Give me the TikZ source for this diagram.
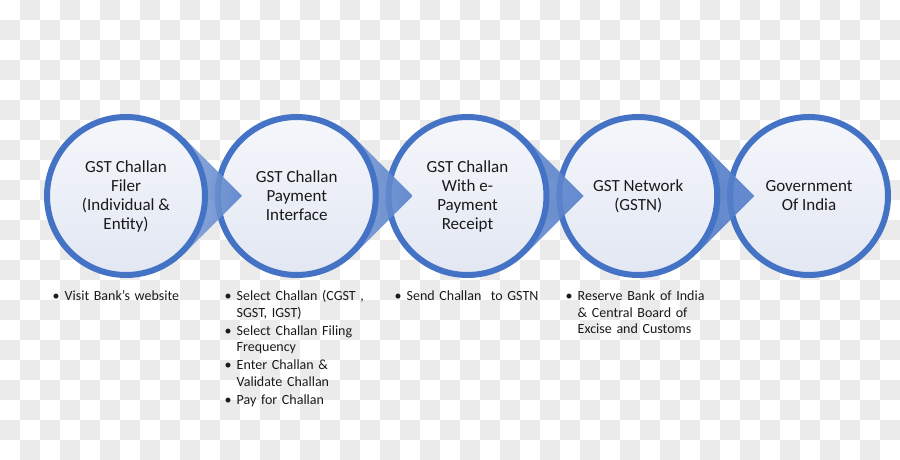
\documentclass[tikz,border=0pt]{standalone}
\usepackage{fontspec}
\setmainfont{Carlito}
\usepackage{tikz}
\usetikzlibrary{calc}
\definecolor{GSTBlue}{RGB}{68,114,196}
\definecolor{GSTFill}{RGB}{226,231,243}
\definecolor{GSTChecker}{RGB}{235,235,235}
\definecolor{GSTText}{RGB}{26,26,26}
\newcommand{\stepitem}[1]{\par\hangindent=12pt\hangafter=1\noindent\makebox[12pt][l]{\textbullet}#1\par\vspace{1.5pt}}

\begin{document}
\begin{tikzpicture}[x=1pt,y=1pt,
    stage/.style={circle, draw=GSTBlue, line width=6pt, minimum size=158pt, inner sep=0pt, top color=GSTFill!35, bottom color=GSTFill, align=center, text=GSTText, font=\fontsize{17}{19}\selectfont},
    chevron/.style={left color=GSTBlue!#1, right color=GSTBlue!90, fill opacity=0.9},
    steps/.style={anchor=north west, inner sep=0pt, text width=160pt, align=left, text=GSTText, font=\fontsize{14}{16.5}\selectfont}
  ]
    \useasboundingbox (0,0) rectangle (900,460);
    \foreach \j in {0,...,22} {
      \foreach \i in {0,...,44} {
        \pgfmathtruncatemacro\odd{mod(\i+\j,2)}
        \ifnum\odd=1 \fill[GSTChecker] (20*\i,440-20*\j) rectangle ++(20,20); \fi
      }
    }
    \foreach \k/\x in {1/126,2/296.75,3/467.5,4/638.25,5/809} {\coordinate (p\k) at (\x,264);}
    \node[stage] (c5) at (p5) {Government\\Of India};
    \shade[chevron=92] ($(p4)+(58,58)$) -- ($(p4)+(116,0)$) -- ($(p4)+(58,-58)$) -- cycle;
    \node[stage] (c4) at (p4) {GST Network\\(GSTN)};
    \shade[chevron=82] ($(p3)+(58,58)$) -- ($(p3)+(116,0)$) -- ($(p3)+(58,-58)$) -- cycle;
    \node[stage] (c3) at (p3) {GST Challan\\With e-\\Payment\\Receipt};
    \shade[chevron=74] ($(p2)+(58,58)$) -- ($(p2)+(116,0)$) -- ($(p2)+(58,-58)$) -- cycle;
    \node[stage] (c2) at (p2) {GST Challan\\Payment\\Interface};
    \shade[chevron=66] ($(p1)+(58,58)$) -- ($(p1)+(116,0)$) -- ($(p1)+(58,-58)$) -- cycle;
    \node[stage] (c1) at (p1) {GST Challan\\Filer\\(Individual \&\\Entity)};
    \node[steps] (s1) at (52.5,176) {\stepitem{Visit Bank’s website}};
    \node[steps] (s2) at (224.5,176) {\stepitem{Select Challan (CGST ,\newline SGST, IGST)}\stepitem{Select Challan Filing\newline Frequency}\stepitem{Enter Challan \&\newline Validate Challan}\stepitem{Pay for Challan}};
    \node[steps] (s3) at (394.5,176) {\stepitem{Send Challan\ \ to GSTN}};
    \node[steps] (s4) at (565.5,176) {\stepitem{Reserve Bank of India\newline \& Central Board of\newline Excise and Customs}};
  \end{tikzpicture}
\end{document}
